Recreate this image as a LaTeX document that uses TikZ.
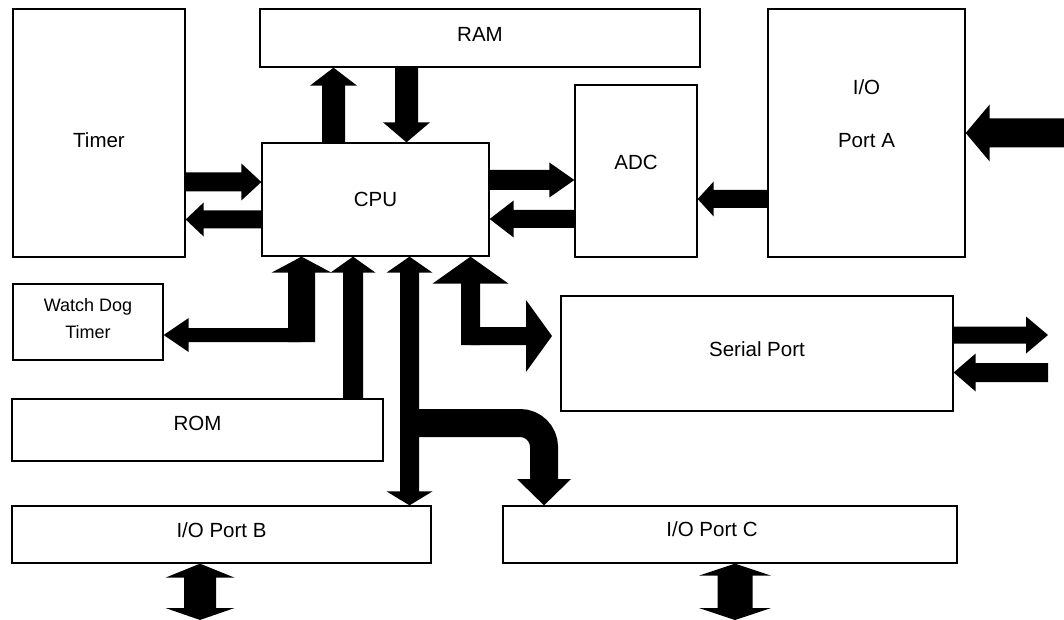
\documentclass[tikz,border=0pt]{standalone}
\usepackage{fontspec}
\setmainfont{Liberation Sans}
\usetikzlibrary{calc}
% single-headed block arrow: #1 tail, #2 tip, #3 half shaft, #4 half head, #5 head length
\newcommand{\sarrow}[5]{%
  \coordinate (tA) at (#1);
  \coordinate (tB) at (#2);
  \coordinate (tH) at ($(tB)!#5!(tA)$);
  \fill[blockfill] ($(tA)!#3!90:(tB)$) -- ($(tH)!#3!90:(tB)$) -- ($(tH)!#4!90:(tB)$) -- (tB)
     -- ($(tH)!#4!-90:(tB)$) -- ($(tH)!#3!-90:(tB)$) -- ($(tA)!#3!-90:(tB)$) -- cycle;}
% double-headed block arrow: #5 head length at #2, #6 head length at #1
\newcommand{\darrow}[6]{%
  \coordinate (tA) at (#1);
  \coordinate (tB) at (#2);
  \coordinate (tH) at ($(tB)!#5!(tA)$);
  \coordinate (tG) at ($(tA)!#6!(tB)$);
  \fill[blockfill] (tA) -- ($(tG)!#4!90:(tB)$) -- ($(tG)!#3!90:(tB)$) -- ($(tH)!#3!90:(tB)$)
     -- ($(tH)!#4!90:(tB)$) -- (tB) -- ($(tH)!#4!-90:(tB)$) -- ($(tH)!#3!-90:(tB)$)
     -- ($(tG)!#3!-90:(tB)$) -- ($(tG)!#4!-90:(tB)$) -- cycle;}
% shift text vertically without changing its box
\newcommand{\vshift}[2]{\raisebox{#1}[\height][\depth]{#2}}
\begin{document}
\begin{tikzpicture}[x=1pt,y=-1pt,
  box/.style={draw, line width=1.3pt, inner sep=0pt, align=center,
    font=\fontsize{20.5}{24.6}\selectfont},
  blockfill/.style={fill=black},
  ]
\useasboundingbox (0,0) rectangle (1064,620);
% blocks
\node[box, minimum width=172pt, minimum height=248pt] (timer) at (99,133) {\vshift{-7pt}{Timer}};
\node[box, minimum width=440pt, minimum height=58pt] (ram) at (480,38) {\vshift{3.5pt}{RAM}};
\node[box, minimum width=227pt, minimum height=113pt] (cpu) at (375.5,199.5) {CPU};
\node[box, minimum width=122pt, minimum height=172pt] (adc) at (636,171) {\vshift{8.5pt}{ADC}};
\node[box, minimum width=197pt, minimum height=248pt] (porta) at (866.5,133)
  {\vshift{17pt}{\begin{tabular}{@{}c@{}}I/O\\[28pt]Port A\end{tabular}}};
\node[box, minimum width=150pt, minimum height=76pt, font=\fontsize{18}{27}\selectfont] (wdt) at (88,322) {\vshift{2pt}{\begin{tabular}{@{}c@{}}Watch Dog\\Timer\end{tabular}}};
\node[box, minimum width=371pt, minimum height=62pt] (rom) at (197.5,430) {\vshift{6.5pt}{ROM}};
\node[box, minimum width=392pt, minimum height=115pt] (serial) at (757,353.5) {\vshift{4pt}{Serial Port}};
\node[box, minimum width=419pt, minimum height=57pt] (portb) at (221.5,534.5) {\vshift{4.5pt}{I/O Port B}};
\node[box, minimum width=454pt, minimum height=57pt] (portc) at (730,534.5) {\vshift{5pt}{\hspace*{-36pt}I/O Port C}};
% free ends
\coordinate (extA) at (1064,133);
\coordinate (serOut) at (1048,335);
\coordinate (serIn) at (1048,372.5);
\coordinate (bOut) at (200,620);
\coordinate (cOut) at (735,620);
% CPU <-> RAM
\sarrow{333.5,0 |- cpu.north}{333.5,0 |- ram.south}{11.5pt}{23.5pt}{18pt}
\sarrow{406.5,0 |- ram.south}{406.5,0 |- cpu.north}{11.5pt}{23.5pt}{20pt}
% Timer <-> CPU
\sarrow{timer.east |- 0,182}{cpu.west |- 0,182}{9.5pt}{18.5pt}{20pt}
\sarrow{cpu.west |- 0,219.5}{timer.east |- 0,219.5}{9pt}{17pt}{18pt}
% CPU <-> ADC
\sarrow{cpu.east |- 0,180}{adc.west |- 0,180}{10pt}{17.5pt}{25pt}
\sarrow{adc.west |- 0,219}{cpu.east |- 0,219}{9pt}{18.5pt}{24pt}
% Port A -> ADC, external -> Port A
\sarrow{porta.west |- 0,199}{adc.east |- 0,199}{9pt}{17.5pt}{16pt}
\sarrow{extA}{porta.east |- extA}{14.5pt}{28.5pt}{24pt}
% Serial port external
\sarrow{serial.east |- serOut}{serOut}{8.5pt}{18.5pt}{22pt}
\sarrow{serIn}{serial.east |- serIn}{9.5pt}{19pt}{22pt}
% ROM -> CPU
\sarrow{353,0 |- rom.north}{353,0 |- cpu.south}{10pt}{22.5pt}{16pt}
% CPU <-> Port B
\darrow{409.5,0 |- cpu.south}{409.5,0 |- portb.north}{9.5pt}{23pt}{14pt}{16pt}
% Port B / Port C external
\darrow{200,0 |- portb.south}{bOut}{16pt}{34.5pt}{12pt}{14pt}
\darrow{735,0 |- portc.south}{cOut}{17.5pt}{36pt}{12pt}{12pt}
% CPU <-> Watch Dog Timer (bent)
\sarrow{301.5,342}{301.5,0 |- cpu.south}{13.5pt}{30pt}{16pt}
\sarrow{301.5,335}{wdt.east |- 0,335}{7pt}{17pt}{25pt}
% CPU <-> Serial Port (bent)
\sarrow{470.5,345}{470.5,0 |- cpu.south}{9.5pt}{38pt}{27pt}
\sarrow{470.5,336}{552,336}{9pt}{36pt}{26pt}
% bus branch to Port C (curved)
\draw[line width=28pt, rounded corners=24pt] (409.5,423) -- (544,423) -- (544,481);
\coordinate (cTip) at (544,0 |- portc.north);
\fill[blockfill] (517,479) -- (571,479) -- (cTip) -- cycle;
\end{tikzpicture}
\end{document}
